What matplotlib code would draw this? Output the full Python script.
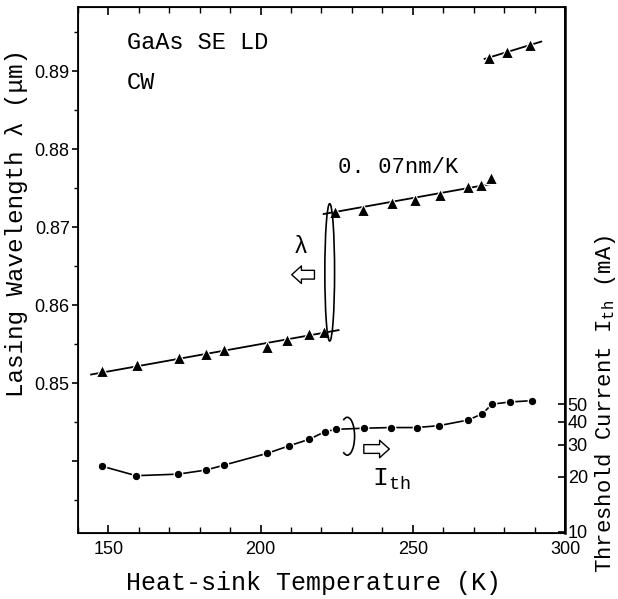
import numpy as np
import matplotlib.pyplot as plt
from matplotlib.patches import Ellipse, Arc

plt.rcParams['font.family'] = ['Liberation Sans', 'DejaVu Sans']
plt.rcParams['mathtext.fontset'] = 'custom'
plt.rcParams['mathtext.rm'] = 'Liberation Mono'
plt.rcParams['mathtext.it'] = 'Liberation Mono'

# lasing wavelength (um) vs heat-sink temperature (K), three mode groups
temp_low = [147.8, 159.3, 173.1, 181.9, 187.9, 202.2, 208.8, 215.9, 220.8]
wl_low = [0.8515, 0.8523, 0.8532, 0.8538, 0.8542, 0.8546, 0.8555, 0.8563, 0.8565]
temp_mid = [224.6, 233.6, 243.1, 250.6, 258.9, 268.0, 272.3, 275.6]
wl_mid = [0.8719, 0.8722, 0.8731, 0.8735, 0.8741, 0.8752, 0.8754, 0.8763]
temp_high = [275.0, 281.1, 288.4]
wl_high = [0.8917, 0.8925, 0.8933]

# threshold current (mA)
temp_ith = [147.8, 159.1, 172.9, 182.1, 188.0, 202.2, 209.2, 216.0, 221.1,
            224.9, 234.1, 242.8, 251.3, 258.6, 268.2, 272.9, 276.0, 281.8, 289.2]
ith = [22.9, 20.3, 20.7, 21.8, 23.2, 26.9, 29.5, 32.1, 35.3,
       36.4, 36.9, 37.2, 37.2, 38.1, 40.9, 44.3, 49.9, 51.3, 52.2]

# temperature ranges of the fitted lines
slope = 0.07e-3  # um/K
fit_low = (144.3, 225.6)
fit_mid = (220.7, 277.3)
fit_high = (273.6, 292.2)

mono = 'Liberation Mono'

fig = plt.figure(figsize=(6.18, 5.99), dpi=100)
ax = fig.add_axes([0.1262, 0.1102, 0.788, 0.878])

tri = dict(marker='^', ms=8.5, color='black', mec='white', mew=0.8, ls='none', zorder=3)

def fit_line(t, w, rng, k=None):
    t = np.asarray(t); w = np.asarray(w)
    if k is None:
        k, b = np.polyfit(t, w, 1)
    else:
        b = np.mean(w - k * t)
    tt = np.array(rng)
    ax.plot(tt, k * tt + b, color='black', lw=1.3, zorder=2)

fit_line(temp_low, wl_low, fit_low, slope)
fit_line(temp_mid, wl_mid, fit_mid, slope)
fit_line(temp_high, wl_high, fit_high)
ax.plot(temp_low, wl_low, **tri)
ax.plot(temp_mid, wl_mid, **tri)
ax.plot(temp_high, wl_high, **tri)

ax.set_xlim(140, 300)
ax.set_ylim(0.8308, 0.8982)
ax.set_xticks([150, 200, 250, 300])
ax.set_xticks(np.arange(140, 301, 10), minor=True)
ax.set_yticks([0.84, 0.85, 0.86, 0.87, 0.88, 0.89])
ax.set_yticklabels(['', '0.85', '0.86', '0.87', '0.88', '0.89'])
ax.set_yticks(np.arange(0.835, 0.898, 0.005), minor=True)
ax.tick_params(axis='x', which='both', direction='in', top=True, labelsize=13)
ax.tick_params(axis='x', which='major', length=6, width=1.2, pad=6)
ax.tick_params(axis='x', which='minor', length=4, width=1)
ax.tick_params(axis='y', which='major', direction='out', length=4, width=1.2, labelsize=13, pad=2)
ax.tick_params(axis='y', which='minor', direction='out', length=3, width=1)
for s in ax.spines.values():
    s.set_linewidth(1.3)

ax.set_xlabel('Heat-sink Temperature (K)', fontfamily=mono, fontsize=18)
ax.xaxis.set_label_coords(0.483, -0.072)
ax.set_ylabel('Lasing Wavelength λ (μm)', fontfamily=mono, fontsize=17.5)
ax.yaxis.set_label_coords(-0.102, 0.59)

# threshold current on a log scale
ax2 = ax.twinx()
ax2.set_yscale('log')
ax2.set_ylim(9.87, 7390)
ax2.plot(temp_ith, ith, color='black', lw=1.2, marker='o', ms=6.2, mec='white', mew=0.9, zorder=3)
ax2.yaxis.set_major_locator(plt.FixedLocator([10, 20, 30, 40, 50]))
ax2.yaxis.set_major_formatter(plt.FixedFormatter(['10', '20', '30', '40', '50']))
ax2.yaxis.set_minor_locator(plt.NullLocator())
ax2.tick_params(axis='y', direction='in', length=5, width=1.2, labelsize=13, pad=2)
ax2.spines['right'].set_linewidth(1.8)
ax2.set_ylabel(r'Threshold Current $\mathrm{I_{th}}$ (mA)', fontfamily=mono, fontsize=16)
ax2.yaxis.set_label_coords(1.057, 0.245)

# mode hop bracket and arrows
xm = (temp_low[-1] + temp_mid[0]) / 2
ym = (wl_low[-1] + wl_mid[0]) / 2
ax.add_patch(Ellipse((xm, ym), 3.2, wl_mid[0] - wl_low[-1] + 0.0022,
                     fill=False, ec='black', lw=1.2, zorder=4))
ax.annotate('', xy=(209.3, 0.8639), xytext=(218.6, 0.8639),
            arrowprops=dict(arrowstyle='simple,head_length=0.5,head_width=0.9,tail_width=0.45',
                            fc='white', ec='black', lw=1, mutation_scale=14))
ax.text(213.2, 0.8675, 'λ', fontfamily=mono, fontsize=17, ha='center', va='center')

ax.add_patch(Arc((0.553, 0.184), 0.03, 0.072, theta1=-105, theta2=105,
                 transform=ax.transAxes, ec='black', lw=1.2, zorder=4))
ax2.annotate('', xy=(243.2, 28.4), xytext=(233.0, 28.4),
             arrowprops=dict(arrowstyle='simple,head_length=0.5,head_width=0.9,tail_width=0.45',
                             fc='white', ec='black', lw=1, mutation_scale=14))
ax2.text(243.0, 19.4, r'$\mathrm{I_{th}}$', fontsize=19, ha='center', va='center')

ax.text(245.3, 0.8777, '0. 07nm/K', fontfamily=mono, fontsize=16, ha='center', va='center')
ax.text(0.101, 0.932, 'GaAs SE LD', fontfamily=mono, fontsize=17, transform=ax.transAxes, va='center')
ax.text(0.101, 0.856, 'CW', fontfamily=mono, fontsize=17, transform=ax.transAxes, va='center')

fig.savefig('out.png', dpi=100)
